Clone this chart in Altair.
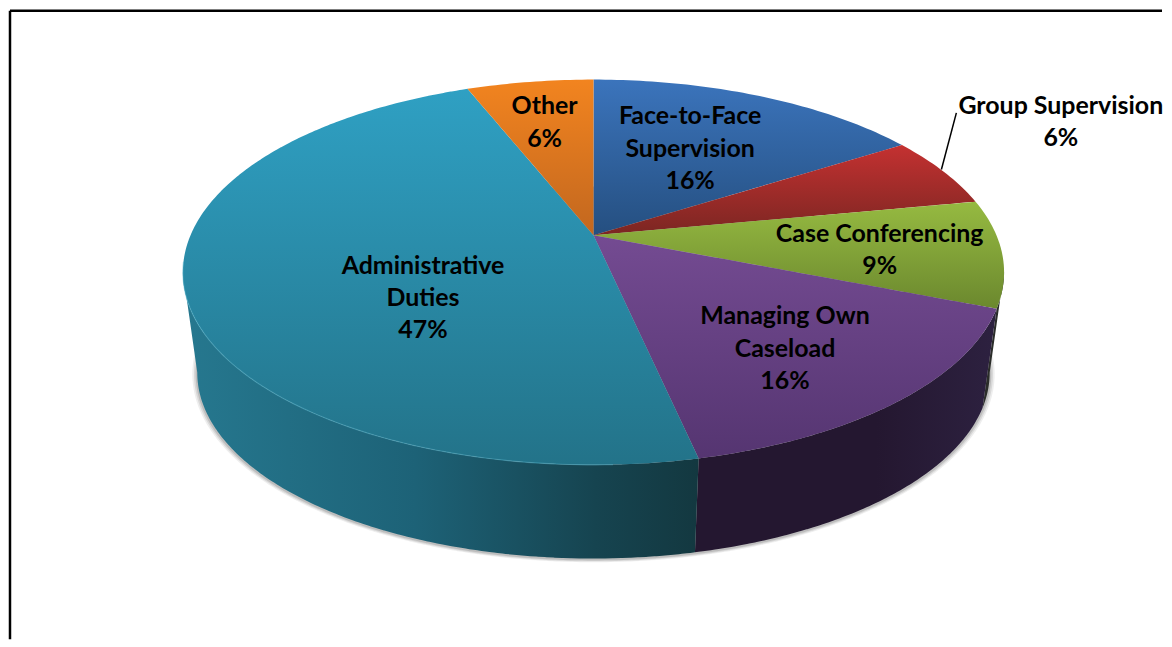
import math
import altair as alt
import pandas as pd

# ---- values ----
CATEGORIES = ["Face-to-Face\nSupervision", "Group Supervision", "Case Conferencing",
              "Managing Own\nCaseload", "Administrative\nDuties", "Other"]
SHARES = [16.0, 6.0, 9.0, 15.6, 47.4, 6.0]

# ---- styling ----
TOP_STOPS = [("#3b74bc", "#254f80"), ("#c43131", "#7b2622"), ("#96ba41", "#6b882e"),
             ("#744b92", "#553571"), ("#2fa0c3", "#237389"), ("#f2841f", "#c2671f")]
WALL_STOPS = [None, None,
              [("#2b2d2a", 0), ("#2b2d2a", 1)],
              [("#241730", 0), ("#241730", 0.6), ("#2d2140", 1)],
              [("#26788f", 0), ("#1d6277", 0.45), ("#164450", 0.8), ("#133840", 1)],
              None]
LABEL_POLAR = [(0.583, 26.9), (1.49, 62.0), (0.704, 96.0), (0.69, 141.9), (0.506, 231.8), (0.708, 348.8)]
LINE_H = 32.5

# ---- perspective of the disc ----
CX, CY, A, B, K = 594, 234, 404, 186, 0.192
BOT_S, BOT_CY = 0.965, 336


def project(theta_deg, r=1.0, s=1.0, cy=CY):
    t = math.radians(theta_deg)
    x, y = r * math.sin(t), r * math.cos(t)
    d = 1 + K * y
    return CX + s * A * x / d, cy - s * B * y / d


def to_slices(poly):
    xs = sorted({round(p[0], 2) for p in poly})
    rows = []
    n = len(poly)
    for x in xs:
        ys = []
        for i in range(n):
            (x0, y0), (x1, y1) = poly[i], poly[(i + 1) % n]
            lo, hi = min(x0, x1), max(x0, x1)
            if lo - 0.006 <= x <= hi + 0.006:
                if abs(x1 - x0) < 1e-6:
                    ys += [y0, y1]
                else:
                    f = min(1, max(0, (x - x0) / (x1 - x0)))
                    ys.append(y0 + f * (y1 - y0))
        rows.append({"x": x, "y": min(ys), "y2": max(ys)})
    return pd.DataFrame(rows)


def arc(t0, t1, **kw):
    n = max(2, int(abs(t1 - t0)) + 2)
    return [project(t0 + (t1 - t0) * i / (n - 1), **kw) for i in range(n)]


xs = alt.Scale(domain=[8, 1164], nice=False, zero=False)
ys = alt.Scale(domain=[639, 8], nice=False, zero=False)
X = alt.X("x:Q", scale=xs, axis=None)
Y = alt.Y("y:Q", scale=ys, axis=None)
Y2 = alt.Y2("y2:Q")


def area(df, **mk):
    return alt.Chart(df).mark_area(orient="vertical", **mk).encode(x=X, y=Y, y2=Y2)


def grad(stops, horizontal=False):
    st = [alt.GradientStop(color=c, offset=o) for c, o in stops]
    if horizontal:
        return alt.LinearGradient(gradient="linear", x1=0, x2=1, y1=0, y2=0, stops=st)
    return alt.LinearGradient(gradient="linear", x1=0, x2=0, y1=0, y2=1, stops=st)


layers = []

# soft shadow under the disc
for grow, op in [(0.012, 0.10), (0.008, 0.14), (0.004, 0.2)]:
    poly = arc(0, 360, s=BOT_S + grow, cy=BOT_CY + 1)
    layers.append(area(to_slices(poly), color="#555555", opacity=op))

# cumulative angles
edges = [0.0]
for v in SHARES:
    edges.append(edges[-1] + v * 3.6)

# side wall
for i in range(len(SHARES)):
    if WALL_STOPS[i] is None:
        continue
    t0, t1 = max(edges[i], 101.0), min(edges[i + 1], 259.0)
    if t1 <= t0:
        continue
    poly = arc(t0, t1) + arc(t1, t0, s=BOT_S, cy=BOT_CY)
    layers.append(area(to_slices(poly), fill=grad(WALL_STOPS[i], horizontal=True)))

# top face
for i in range(len(SHARES)):
    poly = [(CX, CY)] + arc(edges[i], edges[i + 1])
    c0, c1 = TOP_STOPS[i]
    layers.append(area(to_slices(poly), fill=grad([(c0, 0), (c1, 1)])))

# light rim along the front of the big slice
rim = pd.DataFrame([{"x": p[0], "y": p[1], "o": j} for j, p in enumerate(arc(edges[4] + 10, 262))])
layers.append(alt.Chart(rim).mark_line(color="#55b4cc", strokeWidth=1.2, opacity=0.45).encode(
    x=X, y=Y, order="o:Q"))

# labels: first line is anchored, so the block is lifted to stay centred
labels = []
for i, (cat, share) in enumerate(zip(CATEGORIES, SHARES)):
    sx, sy = project(LABEL_POLAR[i][1], r=LABEL_POLAR[i][0])
    text = f"{cat}\n{round(share):d}%"
    labels.append({"x": sx, "y": sy + 1 - LINE_H * text.count("\n") / 2, "t": text})
layers.append(alt.Chart(pd.DataFrame(labels)).mark_text(
    font="Lato", fontWeight="bold", fontSize=25, color="black", lineHeight=LINE_H, lineBreak="\n",
    align="center", baseline="middle").encode(x=X, y=Y, text="t:N"))

# leader line for the outside label
gx, gy = project((edges[1] + edges[2]) / 2)
lx, ly = project(LABEL_POLAR[1][1], r=LABEL_POLAR[1][0])
leader = pd.DataFrame([{"x": gx - 2, "y": gy - 2, "x2": gx + 13, "y2": ly - 8}])
layers.append(alt.Chart(leader).mark_rule(color="black", strokeWidth=1.5).encode(
    x=X, y=Y, x2=alt.X2("x2:Q"), y2=Y2))

# picture frame
frame = pd.DataFrame([{"x": 9, "y": 9, "x2": 1164, "y2": 9}, {"x": 9, "y": 9, "x2": 9, "y2": 639}])
layers.append(alt.Chart(frame).mark_rule(color="black", strokeWidth=2.5).encode(
    x=X, y=Y, x2=alt.X2("x2:Q"), y2=Y2))

chart = alt.layer(*layers).properties(width=1156, height=631, padding=0, background="white"
                                      ).configure_view(stroke=None)
chart.save("out.html", embed_options={"renderer": "svg", "actions": False})
